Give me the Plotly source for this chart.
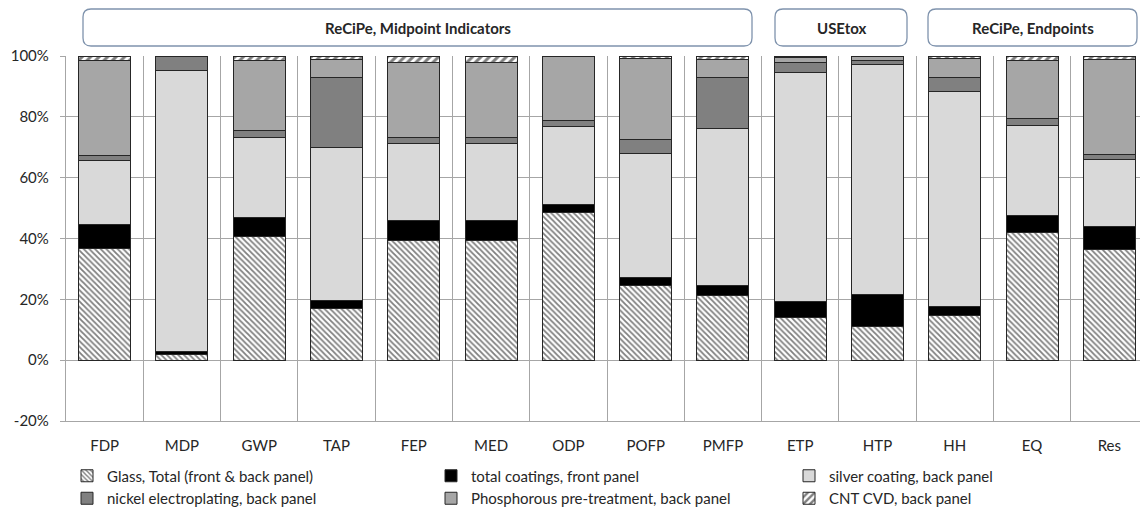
import plotly.graph_objects as go

# Impact categories (x axis)
categories = ["FDP", "MDP", "GWP", "TAP", "FEP", "MED", "ODP",
              "POFP", "PMFP", "ETP", "HTP", "HH", "EQ", "Res"]

# Contribution of each process step, % of total impact
glass_total = [36.7, 2.0, 40.5, 17.0, 39.4, 39.4, 48.7, 24.4, 21.4, 13.9, 11.2, 14.8, 41.9, 36.4]
coatings_front = [7.9, 0.7, 6.3, 2.7, 6.5, 6.5, 2.4, 2.8, 3.0, 5.5, 10.4, 2.7, 5.7, 7.7]
silver_back = [21.1, 92.6, 26.4, 50.2, 25.3, 25.3, 25.8, 40.7, 51.7, 75.1, 75.6, 70.7, 29.6, 21.9]
nickel_back = [1.7, 4.4, 2.4, 22.9, 2.0, 2.0, 2.0, 4.6, 16.8, 3.5, 1.4, 4.6, 2.2, 1.7]
phosphorous_back = [31.2, 0.2, 23.0, 6.1, 24.8, 24.8, 20.8, 26.6, 5.9, 1.5, 1.1, 6.3, 19.2, 31.2]
cnt_cvd_back = [1.4, 0.1, 1.4, 1.1, 2.0, 2.0, 0.3, 0.9, 1.2, 0.5, 0.3, 0.9, 1.4, 1.1]

series_names = ["Glass, Total (front & back panel)", "total coatings, front panel",
                "silver coating, back panel", "nickel electroplating, back panel",
                "Phosphorous pre-treatment, back panel", "CNT CVD, back panel"]

# Method groups shown above the bars
group_labels = ["ReCiPe, Midpoint Indicators", "USEtox", "ReCiPe, Endpoints"]

y_tick_values = [-20, 0, 20, 40, 60, 80, 100]
y_tick_labels = ["-20%", "0%", "20%", "40%", "60%", "80%", "100%"]

# ---- page geometry (pixels) ----
W, H = 1140, 509
M_L, M_R, M_T, M_B = 66, 0, 56, 88
PLOT_W = W - M_L - M_R
PLOT_H = H - M_T - M_B


def paper_x(px):
    return (px - M_L) / PLOT_W


def paper_y(py):
    return (H - M_B - py) / PLOT_H


FONT = "Lato"
TEXT = "#262626"
GRID = "#a6a6a6"
OUTLINE = "#262626"
FS = 15

styles = [
    dict(color="white", pattern=dict(shape="\\", fgcolor="black", bgcolor="white",
                                     size=4, solidity=0.45)),
    dict(color="black"),
    dict(color="#d9d9d9"),
    dict(color="#808080"),
    dict(color="#a6a6a6"),
    dict(color="white", pattern=dict(shape="/", fgcolor="black", bgcolor="white",
                                     size=6, solidity=0.5)),
]
legend_ids = ["legend", "legend2", "legend3", "legend", "legend2", "legend3"]

fig = go.Figure()
all_series = [glass_total, coatings_front, silver_back, nickel_back,
              phosphorous_back, cnt_cvd_back]
for name, vals, st, lg in zip(series_names, all_series, styles, legend_ids):
    marker = dict(line=dict(color=OUTLINE, width=1), **st)
    fig.add_trace(go.Bar(x=categories, y=vals, name=name, marker=marker,
                         legend=lg, width=0.673))

# rounded header boxes
boxes_px = [(83, 752), (775, 907), (928, 1137)]
BOX_TOP, BOX_BOT, R = 9, 46, 8
shapes = []
for (x0p, x1p) in boxes_px:
    x0, x1 = paper_x(x0p), paper_x(x1p)
    yt, yb = paper_y(BOX_TOP), paper_y(BOX_BOT)
    rx, ry = R / PLOT_W, R / PLOT_H
    path = (f"M {x0 + rx},{yt} L {x1 - rx},{yt} Q {x1},{yt} {x1},{yt - ry} "
            f"L {x1},{yb + ry} Q {x1},{yb} {x1 - rx},{yb} "
            f"L {x0 + rx},{yb} Q {x0},{yb} {x0},{yb + ry} "
            f"L {x0},{yt - ry} Q {x0},{yt} {x0 + rx},{yt} Z")
    shapes.append(dict(type="path", path=path, xref="paper", yref="paper",
                       line=dict(color="#7f93ad", width=1.3), fillcolor="white",
                       layer="above"))

annotations = []
for label, (x0p, x1p) in zip(group_labels, boxes_px):
    annotations.append(dict(text=f"<b>{label}</b>", x=paper_x((x0p + x1p) / 2),
                            y=paper_y((BOX_TOP + BOX_BOT) / 2), xref="paper", yref="paper",
                            showarrow=False, xanchor="center", yanchor="middle",
                            font=dict(family=FONT, size=FS, color=TEXT)))

legend_common = dict(orientation="v", xanchor="left", yanchor="top",
                     y=paper_y(459.5), font=dict(family=FONT, size=FS, color=TEXT),
                     bgcolor="rgba(0,0,0,0)", traceorder="normal", itemclick=False,
                     tracegroupgap=0)

fig.update_layout(
    width=W, height=H,
    margin=dict(l=M_L, r=M_R, t=M_T, b=M_B, pad=0, autoexpand=False),
    paper_bgcolor="white", plot_bgcolor="white",
    barmode="stack",
    font=dict(family=FONT, size=FS, color=TEXT),
    showlegend=True,
    legend=dict(x=paper_x(67), **legend_common),
    legend2=dict(x=paper_x(431), **legend_common),
    legend3=dict(x=paper_x(789), **legend_common),
    shapes=shapes,
    annotations=annotations,
    xaxis=dict(type="category", range=[-0.5, 13.5 - 8 / 77.3],
               tickson="boundaries", showgrid=True, gridcolor=GRID, gridwidth=1.3,
               ticks="", showline=True, linecolor=GRID, linewidth=1.3,
               tickfont=dict(family=FONT, size=FS, color=TEXT),
               ticklabelstandoff=11, automargin=False, fixedrange=True),
    yaxis=dict(range=[-20, 100], tickvals=y_tick_values, ticktext=y_tick_labels,
               showgrid=True, gridcolor=GRID, gridwidth=1.3, zeroline=False,
               showline=True, linecolor=GRID, linewidth=1.3,
               ticks="outside", ticklen=5, tickcolor=GRID, tickwidth=1.3,
               tickfont=dict(family=FONT, size=FS, color=TEXT),
               ticklabelstandoff=8, automargin=False, fixedrange=True),
)

fig.write_html("out.html")
